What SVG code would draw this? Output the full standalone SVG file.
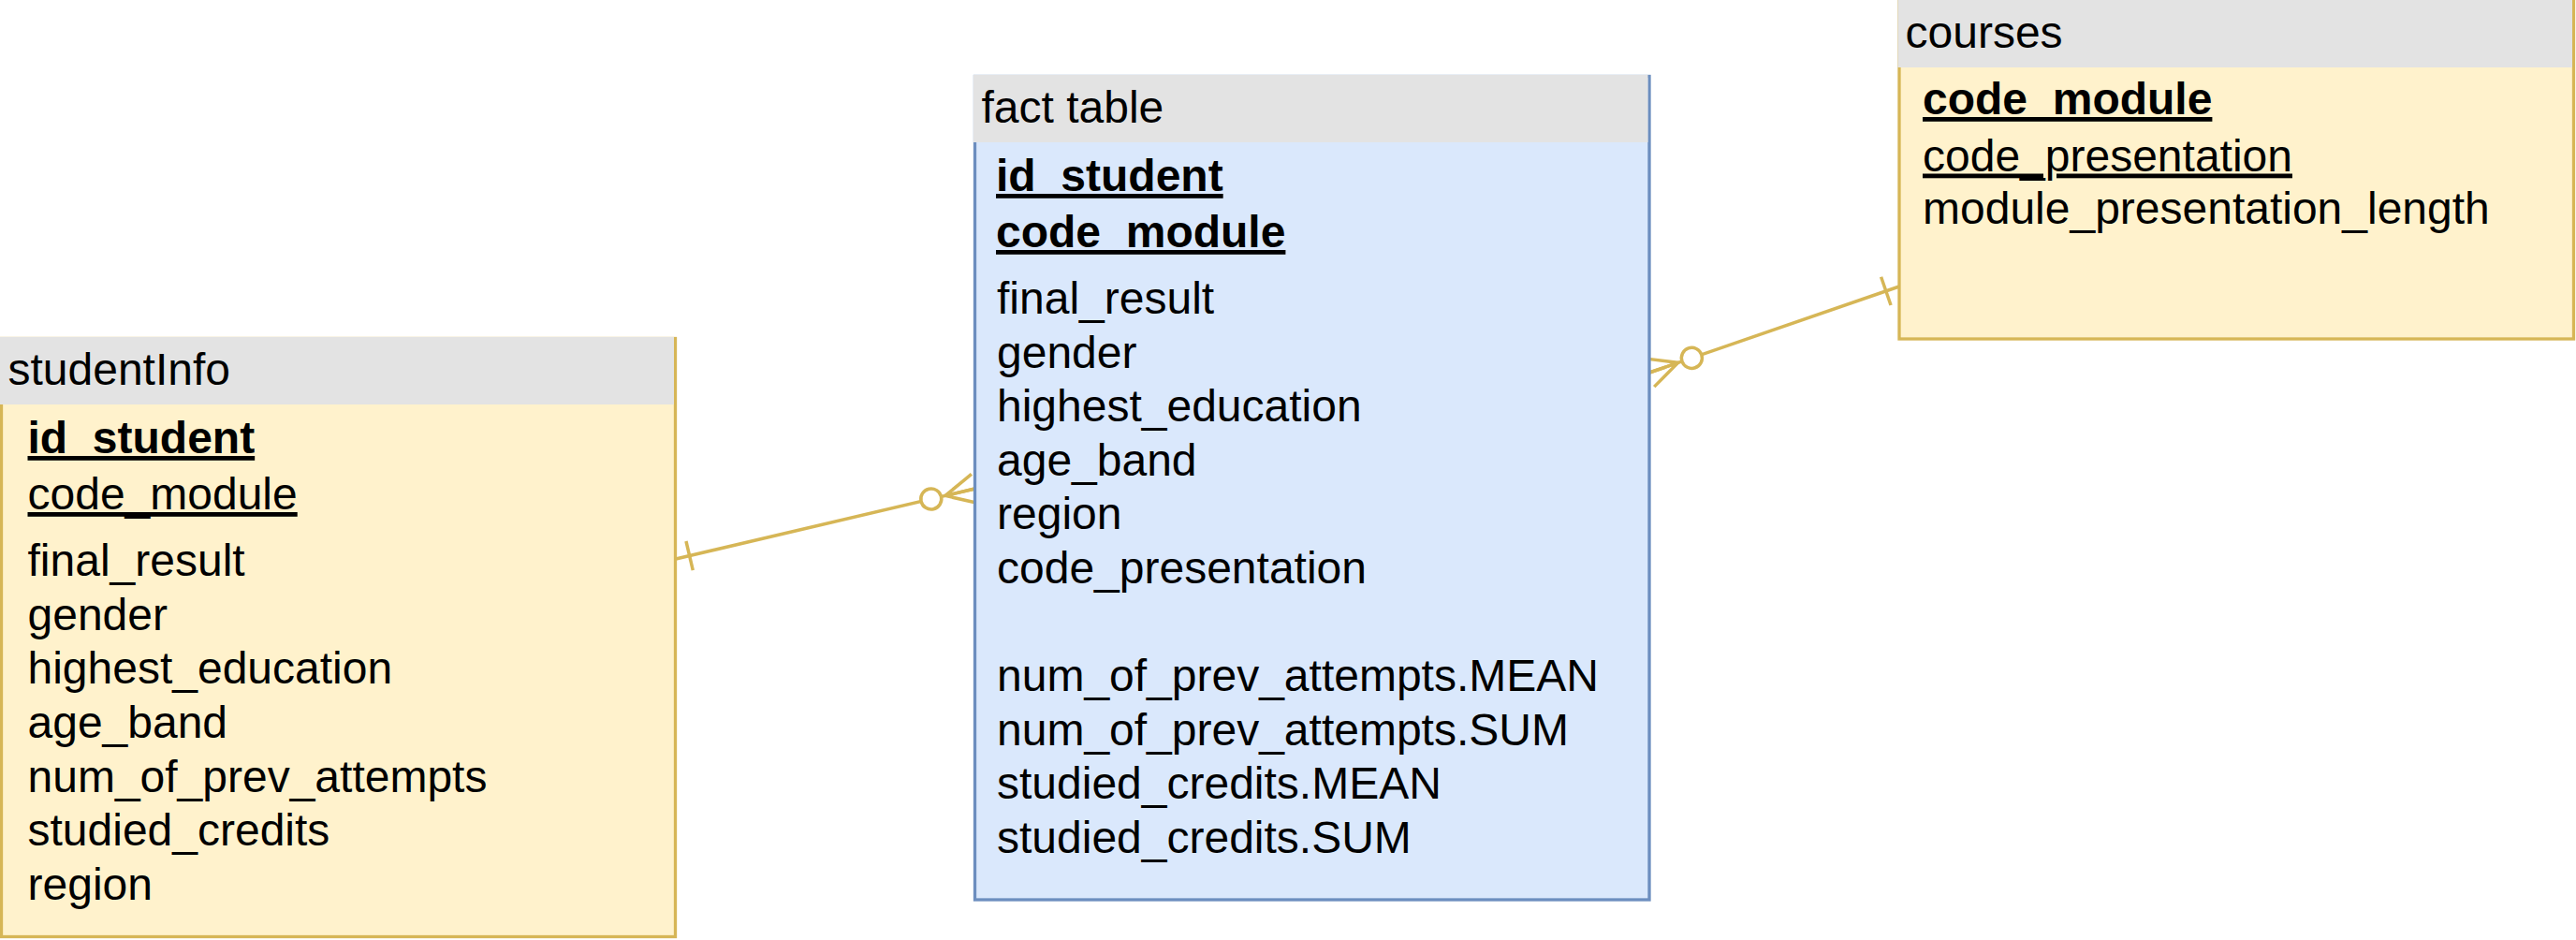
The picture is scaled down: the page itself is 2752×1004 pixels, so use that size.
<svg xmlns="http://www.w3.org/2000/svg" width="2752" height="1004" viewBox="0 0 2752 1004">
<style>
.hdr{fill:#e3e3e3}
.yb{fill:#fff2cc;stroke:#d6b656;stroke-width:3.3}
.bb{fill:#dae8fc;stroke:#6c8ebf;stroke-width:3.3}
text{font-family:"Liberation Sans",Arial,sans-serif;font-size:48px;fill:#000}
.k{font-weight:bold;text-decoration:underline}
.u{text-decoration:underline}
.conn{stroke:#d6b656;stroke-width:3.5;fill:none}
.mk{stroke:#d6b656;stroke-width:3.5;fill:none}
</style>
<defs>
<marker id="one" markerUnits="userSpaceOnUse" orient="auto" refX="0" refY="0" markerWidth="60" markerHeight="60" overflow="visible">
<path class="mk" d="M15,-16 L15,16"/>
</marker>
<marker id="many" markerUnits="userSpaceOnUse" orient="auto" refX="0" refY="0" markerWidth="80" markerHeight="60" overflow="visible">
<path class="mk" d="M0,-16 L-32.5,0 L0,16 M-32.5,0 L0,0"/>
<circle cx="-48" cy="0" r="11" fill="#ffffff" stroke="#d6b656" stroke-width="3.5"/>
</marker>
</defs>
<rect width="2752" height="1004" fill="#ffffff"/>
<g id="connectors">
<path class="conn" d="M722,597 L1041.5,522" marker-start="url(#one)" marker-end="url(#many)"/>
<path class="conn" d="M2029,306 L1762,398" marker-start="url(#one)" marker-end="url(#many)"/>
</g>
<g id="studentInfo">
<rect class="yb" x="1.5" y="361.5" width="720" height="639"/>
<rect class="hdr" x="0" y="360" width="720" height="72"/>
<text x="8.5" y="411">studentInfo</text>
<text class="k" x="29.5" y="484">id_student</text>
<text class="u" x="29.5" y="544">code_module</text>
<text x="29.5" y="615">final_result</text>
<text x="29.5" y="673">gender</text>
<text x="29.5" y="730">highest_education</text>
<text x="29.5" y="788">age_band</text>
<text x="29.5" y="846">num_of_prev_attempts</text>
<text x="29.5" y="903">studied_credits</text>
<text x="29.5" y="961">region</text>
</g>
<g id="fact_table">
<rect class="bb" x="1041.5" y="81.5" width="720.5" height="879.5"/>
<rect class="hdr" x="1040" y="80" width="720.5" height="72"/>
<text x="1048.5" y="131">fact table</text>
<text class="k" x="1064" y="204">id_student</text>
<text class="k" x="1064" y="264">code_module</text>
<text x="1065" y="335">final_result</text>
<text x="1065" y="393">gender</text>
<text x="1065" y="450">highest_education</text>
<text x="1065" y="508">age_band</text>
<text x="1065" y="565">region</text>
<text x="1065" y="623">code_presentation</text>
<text x="1065" y="738">num_of_prev_attempts.MEAN</text>
<text x="1065" y="796">num_of_prev_attempts.SUM</text>
<text x="1065" y="853">studied_credits.MEAN</text>
<text x="1065" y="911">studied_credits.SUM</text>
</g>
<g id="courses">
<rect class="yb" x="2029" y="-1.5" width="720.5" height="363.5"/>
<rect class="hdr" x="2027.5" y="0" width="720.5" height="72"/>
<text x="2035.5" y="51">courses</text>
<text class="k" x="2054" y="122">code_module</text>
<text class="u" x="2054" y="182.5">code_presentation</text>
<text x="2054" y="238.5">module_presentation_length</text>
</g>
</svg>
